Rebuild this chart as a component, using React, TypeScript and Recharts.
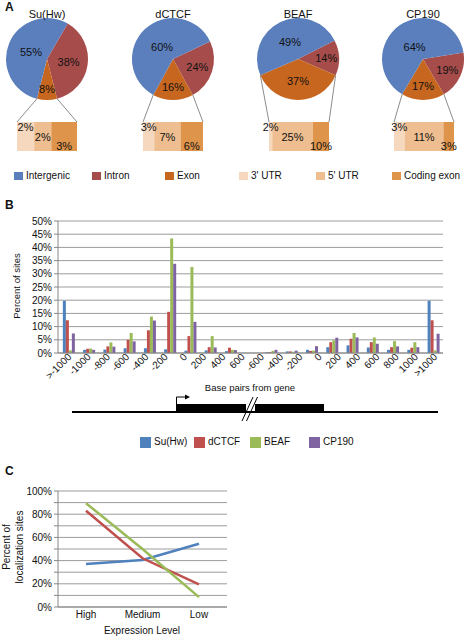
import React from "react";
import { PieChart, Pie, Cell, BarChart, Bar, XAxis, YAxis, CartesianGrid, LineChart, Line } from "recharts";

const FONT = "'Liberation Sans', Arial, Helvetica, sans-serif";

// ---------- Panel A data ----------
const factors = ["Su(Hw)", "dCTCF", "BEAF", "CP190"];
const intergenicPct = [55, 60, 49, 64];
const intronPct = [38, 24, 14, 19];
const exonPct = [8, 16, 37, 17];
const utr3Pct = [2, 3, 2, 3];
const utr5Pct = [2, 7, 25, 11];
const codingPct = [3, 6, 10, 3];
const regionLegend = ["Intergenic", "Intron", "Exon", "3' UTR", "5' UTR", "Coding exon"];

// ---------- Panel B data ----------
// bar slots (the empty slot marks the break inside the gene body)
const barBins = [">-1000", "-1000", "-800", "-600", "-400", "-200", "0", "200", "400", "",
  "-400 ", "-200 ", "0 ", "200 ", "400 ", "600 ", "800", "1000", ">1000"];
const suhwBins = [19.8, 1.2, 1.3, 1.8, 1.8, 1.4, 0.9, 1.0, 0.7, 0, 0.3, 0.6, 1.2, 2.2, 2.9, 2.1, 1.2, 1.2, 19.8];
const dctcfBins = [12.4, 1.6, 2.5, 5.0, 8.6, 15.6, 6.4, 2.2, 2.0, 0, 0.3, 0.6, 0.8, 4.1, 5.4, 4.1, 2.2, 2.0, 12.4];
const beafBins = [1.0, 1.7, 4.0, 7.6, 13.8, 43.4, 32.6, 6.4, 1.2, 0, 0.8, 0.5, 0.9, 4.8, 7.6, 5.9, 4.5, 4.1, 1.0];
const cp190Bins = [7.4, 1.2, 2.4, 4.4, 12.3, 33.8, 11.8, 2.1, 1.1, 0, 1.2, 0.9, 2.6, 5.8, 5.9, 3.5, 2.5, 2.2, 7.3];
// axis tick labels as printed under the axis
const binLabels = [">-1000", "-1000", "-800", "-600", "-400", "-200", "0", "200", "400", "600",
  "-600", "-400", "-200", "0", "200", "400", "600", "800", "1000", ">1000"];
const seriesNames = ["Su(Hw)", "dCTCF", "BEAF", "CP190"];
const binTicks = [0, 5, 10, 15, 20, 25, 30, 35, 40, 45, 50];

// ---------- Panel C data ----------
const levels = ["High", "Medium", "Low"];
const suhwExpr = [37, 40.5, 54.5];
const dctcfExpr = [83, 42, 19.5];
const beafExpr = [89.5, 50, 8.5];
const exprTicks = [0, 10, 20, 30, 40, 50, 60, 70, 80, 90, 100];

const REGION_COLORS = ["#5b7fbd", "#a64d4b", "#c7661e", "#f5d8be", "#eebe90", "#df944b"];
const SERIES_COLORS = ["#4f81bd", "#c0504d", "#9bbb59", "#8064a2"];
const GRID = "#9c9c9c";
const AXIS = "#868686";

const binData = barBins.map((b, i) => ({ bin: b, suhw: suhwBins[i], dctcf: dctcfBins[i], beaf: beafBins[i], cp190: cp190Bins[i] }));
const labelData = binLabels.map((l, i) => ({ key: `${i}`, label: l }));
const exprData = levels.map((l, i) => ({ level: l, suhw: suhwExpr[i], dctcf: dctcfExpr[i], beaf: beafExpr[i] }));

// layout
const PIE_CX = [47, 173, 298, 423];
const PIE_CY = 59;
const PIE_R = 41;
const BOX_X = [17, 143, 269, 394];
const BOX_Y = 122;
const BOX_W = 60;
const BOX_H = 29;
const LEGEND_A_TEXT_X = [26, 104, 177, 251, 328, 404];
const LEGEND_B_TEXT_X = [154, 208, 264, 323];
const RAD = Math.PI / 180;

const renderPieLabel = (p: any) => {
  const { cx, cy, midAngle, outerRadius, value } = p;
  const f = 0.78 - 0.0065 * value;
  const r = outerRadius * f;
  const x = cx + r * Math.cos(-midAngle * RAD);
  const y = cy + r * Math.sin(-midAngle * RAD);
  return (
    <text x={x} y={y} textAnchor="middle" dominantBaseline="central" fontSize={11} fill="#111" fontFamily={FONT}>
      {value}%
    </text>
  );
};

const makeBoxLabel = (j: number, v: number) => (p: any) => {
  const { x, y, width, height } = p;
  return (
    <text x={x + width / 2} y={y + (height * (j + 0.5)) / 3} textAnchor="middle" dominantBaseline="central" fontSize={11} fill="#111" fontFamily={FONT}>
      {v}%
    </text>
  );
};

const BinTick = (props: any) => {
  const { x, y, payload, labels } = props;
  const text = labels ? labels[payload.index] : payload.value;
  const ax = x + 2;
  const ay = y - 6;
  return (
    <text x={ax} y={ay} transform={`rotate(-45, ${ax}, ${ay})`} textAnchor="end" dominantBaseline="central" fontSize={10} fill="#111" fontFamily={FONT}>
      {text}
    </text>
  );
};

const pctFmt = (v: number) => `${v}%`;
const evenPct = (v: number) => (Math.round(v) % 20 === 0 ? `${Math.round(v)}%` : "");

export default function App() {
  const boxKeys = ["utr3", "utr5", "coding"];
  return (
    <div style={{ position: "absolute", left: 0, top: 0, width: 466, height: 638, background: "#fff", fontFamily: FONT, overflow: "hidden" }}>
      <style>{`.boxchart svg, .boxchart .recharts-wrapper { overflow: visible !important; }`}</style>
      {/* Panel A pies */}
      <div style={{ position: "absolute", left: 0, top: 0 }}>
        <PieChart width={466} height={110} margin={{ top: 0, right: 0, bottom: 0, left: 0 }}>
          {factors.map((f, i) => {
            const data = [
              { name: "Intron", value: intronPct[i], color: REGION_COLORS[1] },
              { name: "Exon", value: exonPct[i], color: REGION_COLORS[2] },
              { name: "Intergenic", value: intergenicPct[i], color: REGION_COLORS[0] },
            ];
            const total = intronPct[i] + exonPct[i] + intergenicPct[i];
            const start = -90 + (exonPct[i] / total) * 180 + (intronPct[i] / total) * 360;
            return (
              <Pie key={f} data={data} dataKey="value" nameKey="name" cx={PIE_CX[i]} cy={PIE_CY} outerRadius={PIE_R}
                startAngle={start} endAngle={start - 360} stroke="none" isAnimationActive={false}
                label={renderPieLabel} labelLine={false}>
                {data.map((d) => <Cell key={d.name} fill={d.color} />)}
              </Pie>
            );
          })}
        </PieChart>
      </div>
      {/* Panel A exon breakdown boxes */}
      {factors.map((f, i) => {
        const row: any = { name: f, utr3: utr3Pct[i], utr5: utr5Pct[i], coding: codingPct[i] };
        const total = utr3Pct[i] + utr5Pct[i] + codingPct[i];
        return (
          <div key={f} className="boxchart" style={{ position: "absolute", left: BOX_X[i], top: BOX_Y }}>
            <BarChart width={BOX_W} height={BOX_H} data={[row]} layout="vertical" margin={{ top: 0, right: 0, bottom: 0, left: 0 }} barCategoryGap={0}>
              <XAxis type="number" hide domain={[0, total]} />
              <YAxis type="category" dataKey="name" hide />
              {boxKeys.map((k, j) => (
                <Bar key={k} dataKey={k} stackId="s" fill={REGION_COLORS[3 + j]} isAnimationActive={false} label={makeBoxLabel(j, row[k])} />
              ))}
            </BarChart>
          </div>
        );
      })}
      {/* Panel A legend */}
      {regionLegend.map((name, i) => (
        <React.Fragment key={name}>
          <span style={{ position: "absolute", left: LEGEND_A_TEXT_X[i] - 12, top: 172, width: 9, height: 8, background: REGION_COLORS[i] }} />
          <span style={{ position: "absolute", left: LEGEND_A_TEXT_X[i], top: 170, fontSize: 10, lineHeight: "12px", color: "#111", whiteSpace: "nowrap" }}>{name}</span>
        </React.Fragment>
      ))}

      {/* Panel B bars */}
      <div style={{ position: "absolute", left: 0, top: 210 }}>
        <BarChart width={466} height={183} data={binData} margin={{ top: 11, right: 23, bottom: 0, left: 10 }} barCategoryGap="24%" barGap={0}>
          <CartesianGrid vertical={false} stroke={GRID} />
          <XAxis dataKey="bin" interval={0} tick={false} tickLine={false} axisLine={{ stroke: AXIS }} height={40} />
          <YAxis domain={[0, 50]} ticks={binTicks} tickFormatter={pctFmt} width={48} interval={0}
            tick={{ fontSize: 10, fill: "#111", fontFamily: FONT }} axisLine={{ stroke: AXIS }} tickLine={{ stroke: AXIS }} tickSize={4} />
          <Bar dataKey="suhw" name={seriesNames[0]} fill={SERIES_COLORS[0]} isAnimationActive={false} />
          <Bar dataKey="dctcf" name={seriesNames[1]} fill={SERIES_COLORS[1]} isAnimationActive={false} />
          <Bar dataKey="beaf" name={seriesNames[2]} fill={SERIES_COLORS[2]} isAnimationActive={false} />
          <Bar dataKey="cp190" name={seriesNames[3]} fill={SERIES_COLORS[3]} isAnimationActive={false} />
        </BarChart>
      </div>
      {/* Panel B category labels axis */}
      <div style={{ position: "absolute", left: 0, top: 210, pointerEvents: "none" }}>
        <BarChart width={466} height={183} data={labelData} margin={{ top: 11, right: 23, bottom: 0, left: 58 }}>
          <XAxis dataKey="key" interval={0} tick={<BinTick labels={binLabels} />} tickLine={false} axisLine={false} height={40} />
          <YAxis hide domain={[0, 50]} />
        </BarChart>
      </div>
      {/* Panel B legend */}
      {seriesNames.map((name, i) => (
        <React.Fragment key={name}>
          <span style={{ position: "absolute", left: LEGEND_B_TEXT_X[i] - 14, top: 437, width: 11, height: 11, background: SERIES_COLORS[i] }} />
          <span style={{ position: "absolute", left: LEGEND_B_TEXT_X[i], top: 436, fontSize: 10, lineHeight: "12px", color: "#111", whiteSpace: "nowrap" }}>{name}</span>
        </React.Fragment>
      ))}

      {/* Panel C */}
      <div style={{ position: "absolute", left: 0, top: 480 }}>
        <LineChart width={240} height={150} data={exprData} margin={{ top: 11, right: 13, bottom: 0, left: 10 }}>
          <CartesianGrid vertical={false} stroke={GRID} />
          <XAxis dataKey="level" height={23} tickLine={false} tickSize={2} axisLine={{ stroke: AXIS }} padding={{ left: 28, right: 28 }}
            tick={{ fontSize: 10, fill: "#111", fontFamily: FONT }} />
          <YAxis domain={[0, 100]} ticks={exprTicks} tickFormatter={evenPct} width={48} interval={0}
            tick={{ fontSize: 10, fill: "#111", fontFamily: FONT }} axisLine={{ stroke: AXIS }} tickLine={{ stroke: AXIS }} tickSize={4} />
          <Line dataKey="suhw" stroke={SERIES_COLORS[0]} strokeWidth={2.5} dot={false} isAnimationActive={false} />
          <Line dataKey="dctcf" stroke={SERIES_COLORS[1]} strokeWidth={2.5} dot={false} isAnimationActive={false} />
          <Line dataKey="beaf" stroke={SERIES_COLORS[2]} strokeWidth={2.5} dot={false} isAnimationActive={false} />
        </LineChart>
      </div>

      {/* annotations overlay */}
      <svg width={466} height={638} style={{ position: "absolute", left: 0, top: 0, pointerEvents: "none" }} fontFamily={FONT}>
        <text x={5} y={11} fontSize={12} fontWeight="bold" fill="#111">A</text>
        <text x={5} y={209} fontSize={12} fontWeight="bold" fill="#111">B</text>
        <text x={5} y={475} fontSize={12} fontWeight="bold" fill="#111">C</text>
        {factors.map((f, i) => (
          <text key={f} x={PIE_CX[i]} y={18} textAnchor="middle" fontSize={11} fill="#111">{f}</text>
        ))}
        {factors.map((f, i) => {
          const total = intronPct[i] + exonPct[i] + intergenicPct[i];
          const half = (exonPct[i] / total) * 180 * RAD;
          const ex = PIE_R * Math.sin(half);
          const ey = PIE_CY + PIE_R * Math.cos(half);
          return (
            <g key={f} stroke="#8c8c8c" strokeWidth={1}>
              <line x1={PIE_CX[i] - ex} y1={ey} x2={BOX_X[i]} y2={BOX_Y} />
              <line x1={PIE_CX[i] + ex} y1={ey} x2={BOX_X[i] + BOX_W} y2={BOX_Y} />
            </g>
          );
        })}
        {/* Panel B axis titles */}
        <text transform="translate(16,286) rotate(-90)" textAnchor="middle" dominantBaseline="central" fontSize={9.5} fill="#111">Percent of sites</text>
        <text x={250} y={391} textAnchor="middle" fontSize={9.5} fill="#111">Base pairs from gene</text>
        {/* gene diagram */}
        <line x1={72} y1={412} x2={438} y2={412} stroke="#000" strokeWidth={2} />
        <rect x={176} y={404} width={70} height={9} fill="#000" />
        <rect x={255} y={404} width={69} height={9} fill="#000" />
        <path d="M176.5 404 V397 H186" stroke="#000" strokeWidth={1} fill="none" />
        <polygon points="185,394.5 190,397 185,399.5" fill="#000" />
        <line x1={242} y1={421} x2={253} y2={397} stroke="#000" strokeWidth={1} />
        <line x1={246.5} y1={421} x2={257.5} y2={397} stroke="#000" strokeWidth={1} />
        {/* Panel C axis titles */}
        <text transform="translate(6,547) rotate(-90)" textAnchor="middle" dominantBaseline="central" fontSize={10} fill="#111">Percent of</text>
        <text transform="translate(19,547) rotate(-90)" textAnchor="middle" dominantBaseline="central" fontSize={10} fill="#111">localization sites</text>
        <text x={142} y={634} textAnchor="middle" fontSize={10} fill="#111">Expression Level</text>
      </svg>
    </div>
  );
}
